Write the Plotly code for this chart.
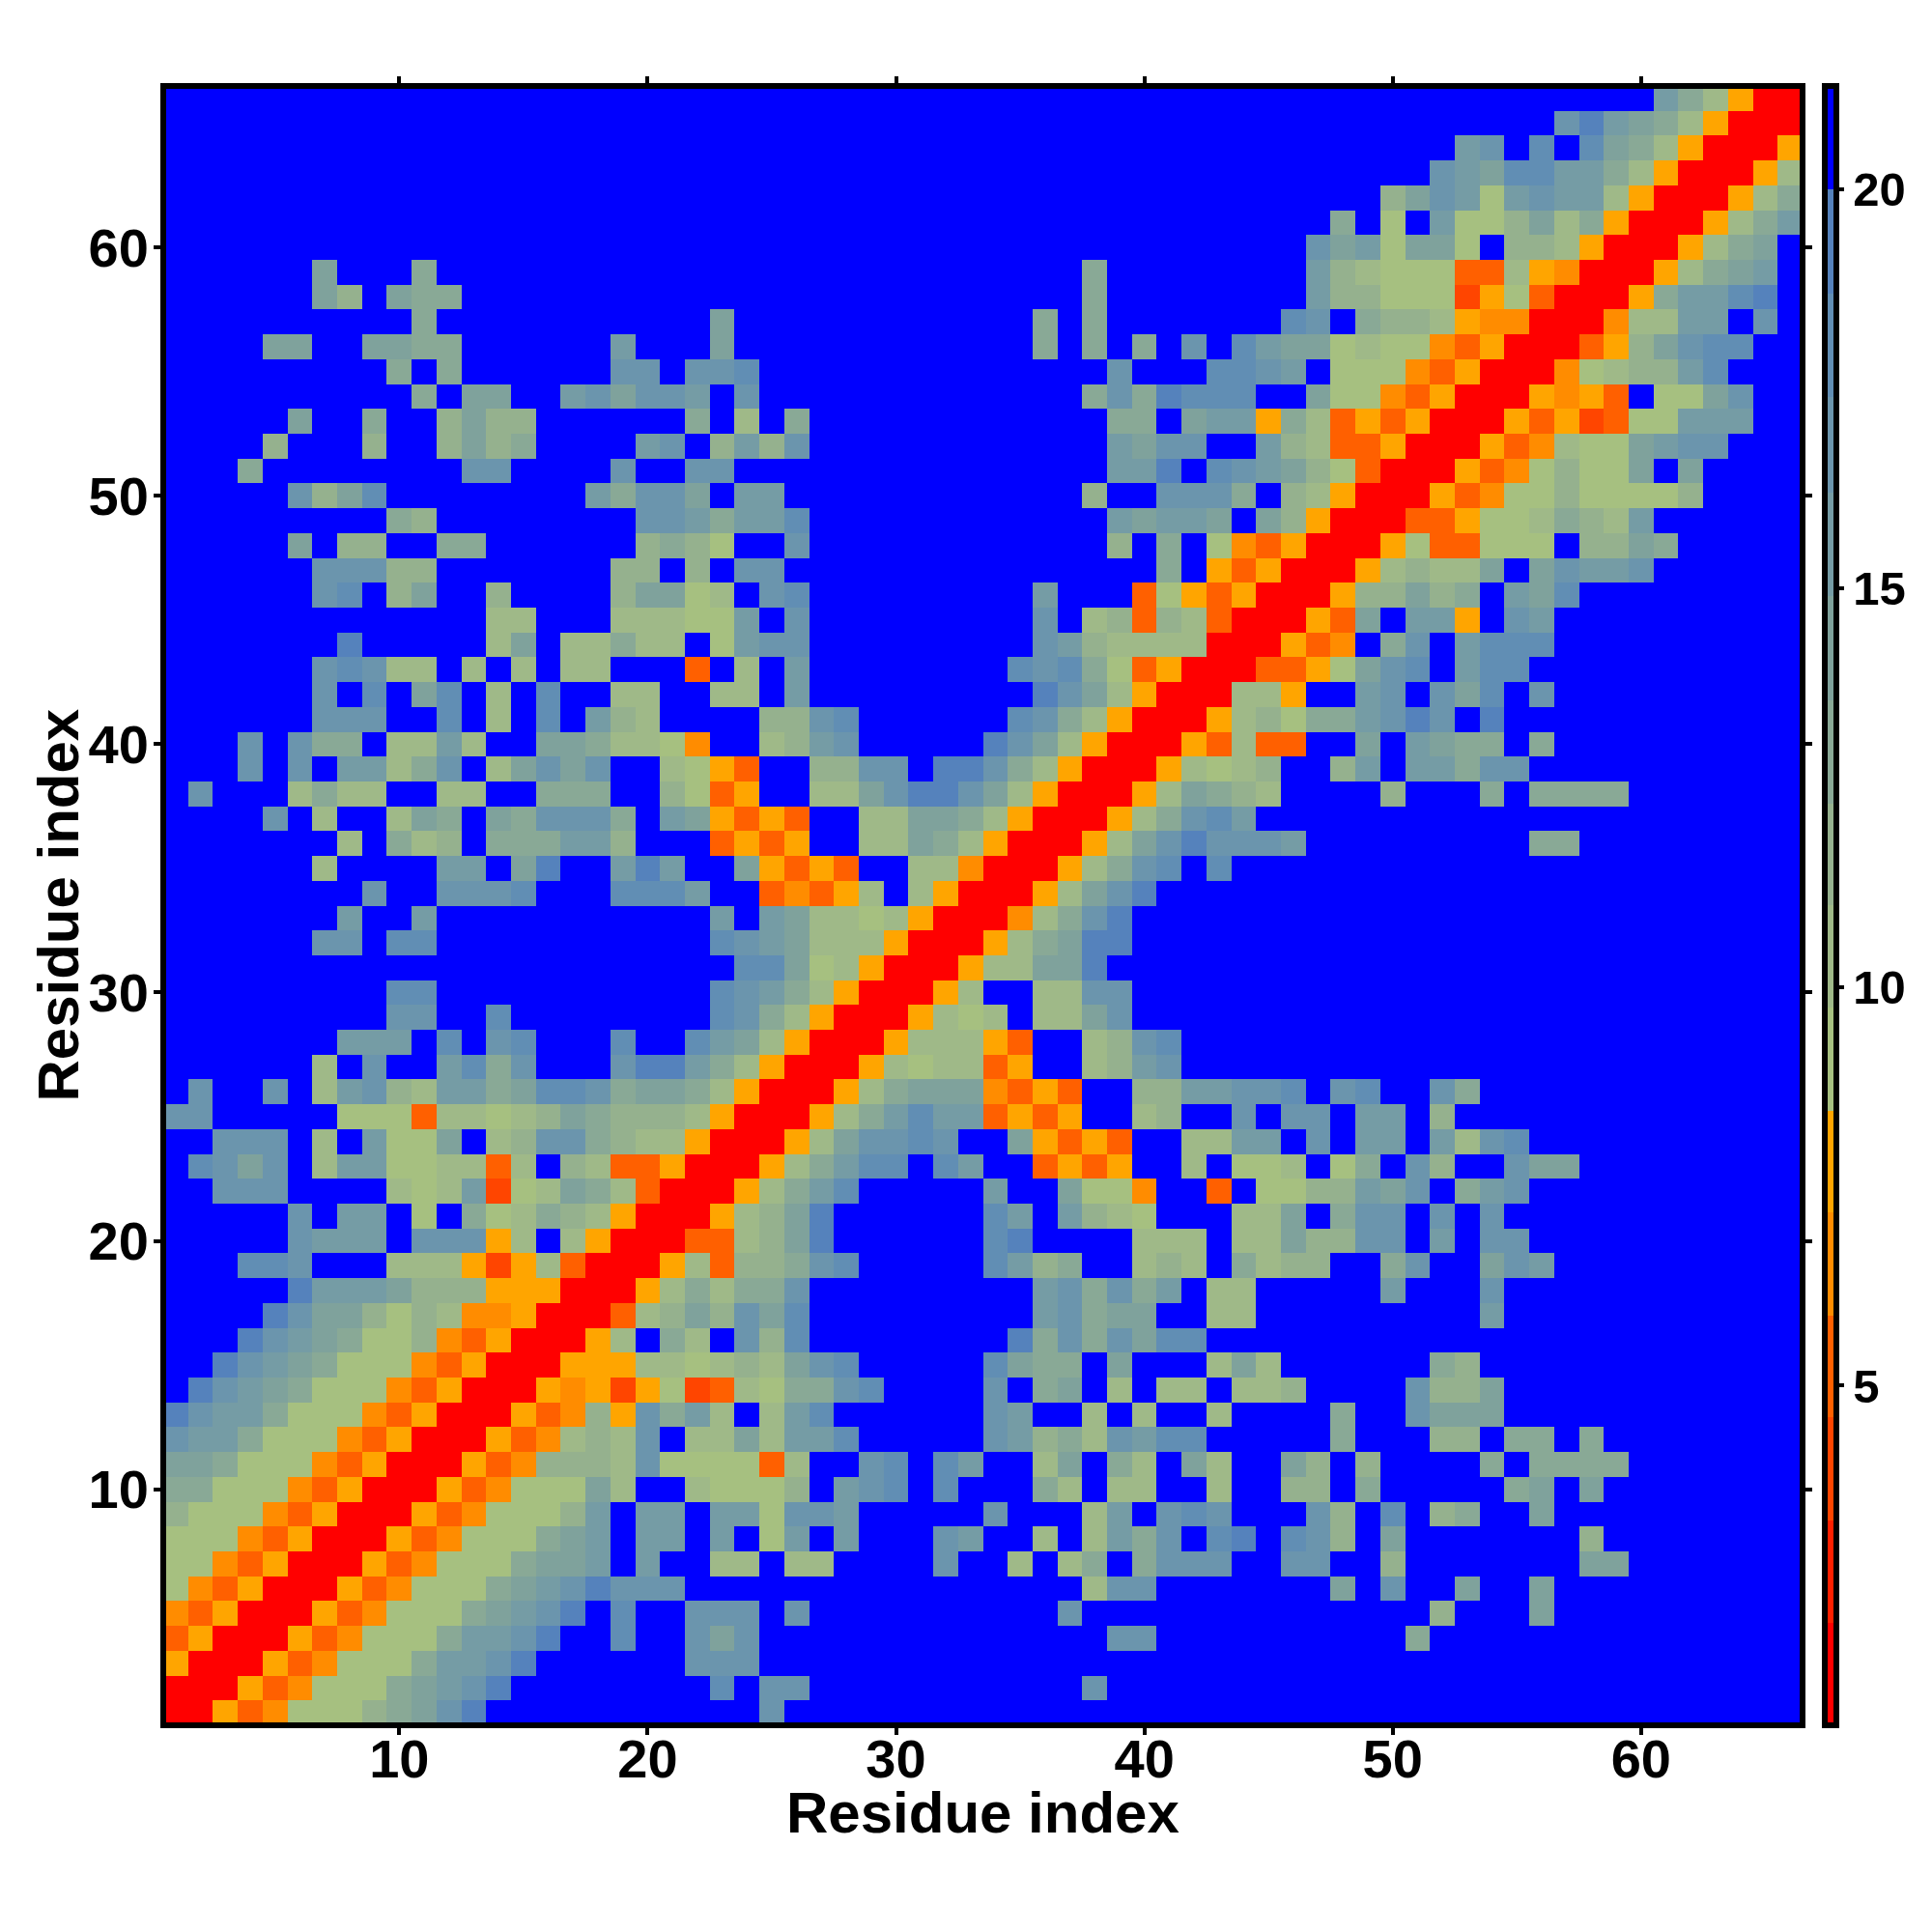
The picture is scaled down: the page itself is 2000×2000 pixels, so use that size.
import plotly.graph_objects as go

N = 66
# Upper triangle of the symmetric distance map: each string starts on the diagonal
# R C D E F = warm bands, 1-9 = cool bands, . = beyond the last band
ROWS = [
 "RRFDE11134579...........7",
 "RRFDE11145679........8.77...........7",
 "RRFDE11146679......777",
 "RRFDE11146679..8..757..............77..........4",
 "RRFDE11145679.8..777.7..........7..............3...5",
 "RRFDE11145679777................277.......5.7..5..5",
 "RRFDE1114556.6..22.22....7..2.24.4777..77..3.......55",
 "RRFDE111456.66.6.16.6...76..2.2647.89.873.5.......3",
 "RRFDE11136.66.661776.....7...26.787...73.8.34..5",
 "RRFDE11152..21113.678.8...42.22..2..33.4.....45.5",
 "RRFDE333271111D2..78.86..25.42.52..53.3....4.4444",
 "RRFDE2327.2252668.....763427688.....4...33.44.4",
 "RRFDE3F7462.268......76..2.2..2....4..7555",
 "RRFEFCF1CD214478....7.45.2.22.223....7335",
 "RRFFF221232578.....8544.5...252......43",
 "RRF2.42.738........94747588",
 "RRD2353758.........67455..22.........6",
 "RRF242447.........674746.22.....6...7",
 "RRF2D33478.....8634..232.4233..47..576",
 "RRDD2359......89....222.2253377.6.77",
 "RRF2359......86.6321...225.477.7.7",
 "RRF2468.....6..511E..D.1133657.467",
 "RRF24688.86..DFDF..2.112.14.73..755",
 "RRF257787..5FDFD..2266.7.66.6278",
 "RRF246866DFDF..23..7.77.66.3",
 "RRF24555EDFD..3366778.78..74",
 "RRF2122DF..2367",
 "RRF222FD..2378",
 "RRF212.2257",
 "RRF2..2277",
 "RRF22559",
 "RRF24599",
 "RRE2479",
 "RRF2579",
 "RRF2478.8",
 "RRF25797776.........44",
 "RRF24786",
 "RRF25432....3...4.4444",
 "RRF2123..36.66477",
 "RRFD2DD..5.6544.4",
 "RRF231446797.9",
 "RR22F..67.758.7",
 "RRDDF1578.688",
 "RRFDE.47.6888",
 "RRFD5.66F.76",
 "RRF33534.658",
 "RRF23225.57667",
 "RRF1DD111.3354",
 "RRDDF1124326",
 "RRFDE11311113",
 "RRFDE13115.5",
 "RRFDE2115677",
 "RRFDFCD11666",
 "RRFEFD.1157",
 "RRE123368",
 "RRDF35788",
 "RRE2266.7",
 "RRF46689",
 "RRF2456",
 "RRF245",
 "RRF246",
 "RRF24",
 "RRF2",
 "RRF",
 "RR",
 "R",
]
BAND_VALUES = {"R": 1.4, "C": 3.95, "D": 5.25, "E": 6.5, "F": 7.8,
               "1": 9.1, "2": 10.4, "3": 11.7, "4": 13.0, "5": 14.2,
               "6": 15.5, "7": 16.8, "8": 18.1, "9": 19.4, ".": 20.7}
BAND_EDGES = [0.74, 2.02, 3.31, 4.6, 5.88, 7.17, 8.45, 9.74, 11.02, 12.3,
              13.6, 14.9, 16.2, 17.4, 18.7, 20.0, 21.3]
BAND_COLORS = ["#ff0000", "#ff2000", "#ff4500", "#ff6000", "#ff8c00", "#ffa500",
               "#a6c080", "#9fb988", "#95b18e", "#89a996", "#7fa29c",
               "#759ca5", "#6b95ad", "#618eb4", "#5582bc", "#0000ff"]
TICKS = [10, 20, 30, 40, 50, 60]
BAR_TICKS = [5, 10, 15, 20]
AXIS_LABEL = "Residue index"

axis_vals = list(range(1, N + 1))
z = [[BAND_VALUES["."]] * N for _ in range(N)]
for j, row in enumerate(ROWS):
    assert j + len(row) <= N, (j + 1, len(row))
    for k, ch in enumerate(row):
        z[j][j + k] = BAND_VALUES[ch]
        z[j + k][j] = BAND_VALUES[ch]

lo, hi = BAND_EDGES[0], BAND_EDGES[-1]
scale = []
for i, c in enumerate(BAND_COLORS):
    scale.append([(BAND_EDGES[i] - lo) / (hi - lo), c])
    scale.append([(BAND_EDGES[i + 1] - lo) / (hi - lo), c])

FONT = "Liberation Sans"
title_font = dict(family=FONT, size=60, color="black", weight="bold")
fig = go.Figure(go.Heatmap(
    x=axis_vals, y=axis_vals, z=z, zmin=lo, zmax=hi, colorscale=scale,
    xgap=0, ygap=0, hoverongaps=False,
    colorbar=dict(x=1.0137, xanchor="left", y=0.5, yanchor="middle", len=1.0,
                  lenmode="fraction", thickness=12, thicknessmode="pixels",
                  outlinecolor="black", outlinewidth=6, xpad=0, ypad=0,
                  tickvals=BAR_TICKS, ticks="outside", ticklen=5, tickwidth=4,
                  tickcolor="black",
                  tickfont=dict(family=FONT, size=49, color="black", weight="bold")),
))
ax = dict(range=[0.5, 66.5], tickvals=TICKS, ticks="outside", ticklen=9, tickwidth=4,
          tickcolor="black", showline=False, mirror="ticks",
          showgrid=False, zeroline=False,
          tickfont=dict(family=FONT, size=56, color="black", weight="bold"))
fig.update_xaxes(**ax, ticklabelstandoff=-23)
fig.update_yaxes(**ax, ticklabelstandoff=-6)
fig.add_shape(type="rect", xref="paper", yref="paper", x0=0, x1=1, y0=0, y1=1,
              line=dict(color="black", width=6), layer="above")
fig.add_annotation(text=AXIS_LABEL, xref="paper", yref="paper", x=0.5, y=-0.0535,
                   xanchor="center", yanchor="middle", showarrow=False, font=title_font)
fig.add_annotation(text=AXIS_LABEL, xref="paper", yref="paper", x=-0.0642, y=0.5,
                   xanchor="center", yanchor="middle", textangle=-90, showarrow=False,
                   font=title_font)
fig.update_layout(width=2000, height=2000, autosize=False, paper_bgcolor="white",
                  plot_bgcolor="white",
                  margin=dict(l=161, r=142, t=81, b=222, pad=0))
fig.write_html("out.html")
